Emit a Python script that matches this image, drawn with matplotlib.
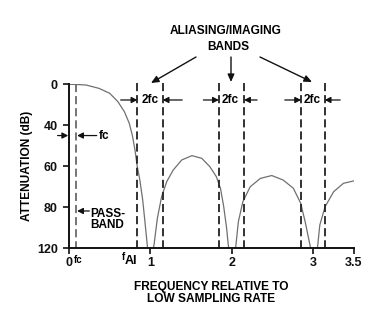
import numpy as np
import matplotlib
matplotlib.use("Agg")
import matplotlib.pyplot as plt

plt.rcParams['font.family'] = ['Liberation Sans', 'DejaVu Sans']
plt.rcParams['font.weight'] = 'bold'

# ---- data ----
freq = [0.00, 0.10, 0.21, 0.37, 0.50, 0.60, 0.68, 0.74, 0.78, 0.81, 0.835, 0.87, 0.905, 0.93, 0.95, 0.965,
        1.035, 1.044, 1.085, 1.138, 1.20, 1.28, 1.385, 1.51, 1.63, 1.73, 1.81, 1.86, 1.90, 1.935, 1.956, 1.962,
        2.045, 2.05, 2.08, 2.135, 2.225, 2.35, 2.49, 2.63, 2.755, 2.845, 2.90, 2.95, 2.96, 2.965,
        3.05, 3.055, 3.08, 3.145, 3.25, 3.37, 3.50]
atten = [0, 0.2, 0.7, 4, 8.8, 16.9, 26.7, 38, 45.3, 52, 59.3, 66.7, 76.4, 92, 108, 120,
         120, 116.8, 90.7, 74.7, 67.5, 61.8, 56.9, 54.8, 56.1, 60.2, 65.1, 70.7, 79.7, 100, 116.8, 120,
         120, 116.8, 94, 77.3, 70, 65.9, 64.5, 66.7, 70.7, 78, 94, 113.3, 116.8, 120,
         120, 116.8, 97.3, 79.7, 72.4, 68.3, 67.1]

ytick_vals = [0, 40, 60, 80, 120]
xtick_vals = [0, 1, 2, 3, 3.5]
xtick_labels = ['0', '1', '2', '3', '3.5']
fc = 0.09
band_edges = [(0.84, 1.15), (1.84, 2.15), (2.85, 3.14)]

# the printed dB axis is evenly spaced at 0,40,60,80,120
_anch_db = [-400, 0, 40, 60, 80, 120, 520]
_anch_pos = [-10, 0, 1, 2, 3, 4, 14]
def fwd(y):
    return np.interp(y, _anch_db, _anch_pos)
def inv(p):
    return np.interp(p, _anch_pos, _anch_db)

W, H = 382, 313
fig = plt.figure(figsize=(W/100, H/100), dpi=100)
fig.patch.set_facecolor('white')
ax = fig.add_axes([69/W, 1-248.3/H, (354-69)/W, (248.3-84.3)/H])
ax.set_yscale('function', functions=(fwd, inv))
ax.set_xlim(0, 3.5)
ax.set_ylim(120, 0)

ax.plot(freq, atten, color='#707070', lw=0.9, solid_joinstyle='round')

dash = (0, (4.5, 2.2))
ax.plot([fc, fc], [0, 120], color='#6a6a6a', lw=1.3, linestyle=dash, clip_on=False)
for a, b in band_edges:
    for xv in (a, b):
        ax.plot([xv, xv], [-1.6, 120], color='#222222', lw=1.3, linestyle=dash, clip_on=False)

for s in ('top', 'right'):
    ax.spines[s].set_visible(False)
for s in ('left', 'bottom'):
    ax.spines[s].set_linewidth(1.4)
    ax.spines[s].set_color('#111111')

ax.set_yticks(ytick_vals)
ax.set_yticklabels([str(v) for v in ytick_vals])
ax.set_xticks(xtick_vals)
ax.set_xticklabels(xtick_labels)
ax.tick_params(axis='both', direction='out', length=4, width=1.2, labelsize=9, colors='#111111')
ax.tick_params(axis='y', pad=4)
ax.tick_params(axis='x', pad=2)
for t in ax.get_xticklabels() + ax.get_yticklabels():
    t.set_fontweight('bold')

ax.set_ylabel('ATTENUATION (dB)', fontsize=8.6, fontweight='bold', labelpad=3)
ax.set_xlabel('FREQUENCY RELATIVE TO\nLOW SAMPLING RATE', fontsize=8.6, fontweight='bold',
              labelpad=9, linespacing=0.95)

# extra x labels
ax.text(fc + 0.02, -0.07, 'fc', transform=ax.get_xaxis_transform(), fontsize=7,
        fontweight='bold', ha='center', va='center')
ax.text(0.67, -0.05, 'f', transform=ax.get_xaxis_transform(), fontsize=7,
        fontweight='bold', ha='center', va='center')
ax.text(0.755, -0.075, 'AI', transform=ax.get_xaxis_transform(), fontsize=9,
        fontweight='bold', ha='center', va='center')

ap = dict(arrowstyle='-|>,head_length=0.35,head_width=0.18', color='#111111', lw=0.9,
          shrinkA=0, shrinkB=0)

# 2fc markers
y2 = 15.3
for (a, b), tx, lft, rgt in zip(band_edges, [0.995, 1.985, 2.99],
                                [0.635, 1.65, 2.65], [1.39, 2.31, 3.33]):
    ax.annotate('', xy=(a, y2), xytext=(lft, y2), arrowprops=ap, annotation_clip=False)
    ax.annotate('', xy=(b, y2), xytext=(rgt, y2), arrowprops=ap, annotation_clip=False)
    ax.text(tx, y2, '2fc', fontsize=8.5, fontweight='bold', ha='center', va='center',
            bbox=dict(boxstyle='square,pad=0.05', fc='white', ec='none'))

# fc markers
yfc = 45
ax.annotate('', xy=(-0.01, yfc), xytext=(-0.14, yfc), arrowprops=ap, annotation_clip=False)
ax.annotate('', xy=(fc + 0.01, yfc), xytext=(0.34, yfc), arrowprops=ap, annotation_clip=False)
ax.text(0.37, yfc, 'fc', fontsize=8.5, fontweight='bold', ha='left', va='center')

# pass-band
ypb = 83.6
ax.annotate('', xy=(fc + 0.01, ypb), xytext=(0.25, ypb), arrowprops=ap, annotation_clip=False)
ax.text(0.265, 80.5, 'PASS-\nBAND', fontsize=8.5, fontweight='bold', ha='left', va='top',
        linespacing=0.95)

# title and arrows (figure pixels)
fig.text(226/W, 1-31/H, 'ALIASING/IMAGING', fontsize=8.6, fontweight='bold',
         ha='center', va='center')
fig.text(228/W, 1-47.5/H, 'BANDS', fontsize=8.6, fontweight='bold', ha='center', va='center')
apt = dict(arrowstyle='-|>,head_length=0.45,head_width=0.2', color='#111111', lw=1.0,
           shrinkA=0, shrinkB=0)
for (x0, y0), (x1, y1) in [((196, 57), (151, 83)), ((231, 57), (231, 82)),
                           ((260, 57), (312, 82))]:
    ax.annotate('', xy=(x1, H - y1), xycoords='figure pixels',
                xytext=(x0, H - y0), textcoords='figure pixels', arrowprops=apt)

fig.savefig('out.png', dpi=100, facecolor='white')
